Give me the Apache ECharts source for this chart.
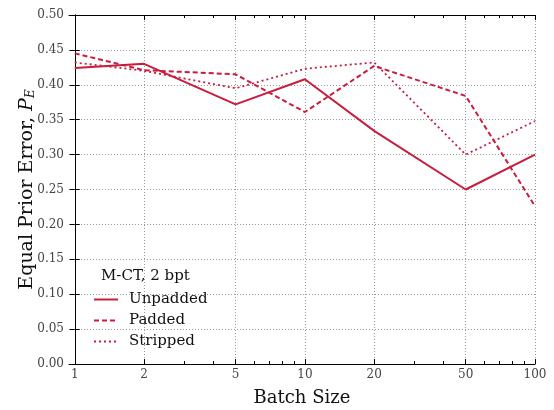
<!DOCTYPE html>
<html><head><meta charset="utf-8">
<script src="https://cdn.jsdelivr.net/npm/echarts@6/dist/echarts.min.js"></script>
<style>html,body{margin:0;padding:0;background:#fff}#c{width:554px;height:410px}</style>
</head><body><div id="c"></div>
<script>
// Data
const batchSizes = [1, 2, 5, 10, 20, 50, 100];
const unpadded = [0.424, 0.430, 0.372, 0.408, 0.334, 0.250, 0.300];
const padded   = [0.445, 0.421, 0.415, 0.361, 0.427, 0.384, 0.226];
const stripped = [0.432, 0.420, 0.395, 0.423, 0.432, 0.300, 0.348];
const xMajorTicks = [1, 2, 5, 10, 20, 50, 100];
const xMinorTicks = [3, 4, 6, 7, 8, 9, 30, 40, 60, 70, 80, 90];
const seriesNames = ['Unpadded', 'Padded', 'Stripped'];
const legendTitle = 'M-CT, 2 bpt';

const RED = '#c81d3e';
const FONT = 'DejaVu Serif';
const lg = v => Math.log10(v);
const xMin = -0.025, xMax = 2;

function pts(arr) { return batchSizes.map((b, i) => [lg(b), arr[i]]); }

const gridLine = { show: true, lineStyle: { color: '#999', type: [1, 2], width: 1 } };

function xAxisDef(pos, values, len, opts) {
  return Object.assign({
    type: 'value', position: pos, min: xMin, max: xMax,
    axisLine: { show: false },
    axisTick: { show: true, inside: true, length: len, customValues: values.map(lg), lineStyle: { color: '#000', width: 1 } },
    axisLabel: { show: false },
    splitLine: { show: false }
  }, opts || {});
}

const chart = echarts.init(document.getElementById('c'));
chart.setOption({
  animation: false,
  backgroundColor: '#fff',
  grid: { left: 69, right: 19, top: 15, bottom: 46, containLabel: false, outerBoundsMode: 'none' },
  title: {
    text: legendTitle, left: 96, top: 264,
    textStyle: { fontFamily: FONT, fontSize: 15, fontWeight: 'normal', color: '#111' }
  },
  legend: {
    orient: 'vertical', left: 88, top: 287,
    itemWidth: 24, itemHeight: 14, itemGap: 6,
    data: seriesNames,
    itemStyle: { opacity: 0 },
    textStyle: { fontFamily: FONT, fontSize: 15, color: '#111', padding: [0, 0, 0, 6] }
  },
  xAxis: [
    xAxisDef('bottom', xMajorTicks, 5, {
      name: 'Batch Size', nameLocation: 'middle', nameGap: 25,
      nameTextStyle: { fontFamily: FONT, fontSize: 18, color: '#111' },
      axisLine: { show: true, lineStyle: { color: '#000', width: 1 } },
      axisLabel: {
        show: true, customValues: xMajorTicks.map(lg), margin: 5,
        fontFamily: FONT, fontSize: 12, color: '#444',
        formatter: v => String(Math.round(Math.pow(10, v)))
      },
      splitLine: gridLine
    }),
    xAxisDef('bottom', xMinorTicks, 3),
    xAxisDef('top', xMajorTicks, 5, { axisLine: { show: true, lineStyle: { color: '#000', width: 1 } } }),
    xAxisDef('top', xMinorTicks, 3)
  ],
  yAxis: [
    {
      type: 'value', position: 'left', min: 0, max: 0.5, interval: 0.05,
      name: '{a|Equal Prior Error, }{i|P}{s|E}',
      nameLocation: 'middle', nameGap: 32, nameMoveOverlap: false,
      nameTextStyle: {
        fontFamily: FONT, fontSize: 19, color: '#111',
        rich: {
          a: { fontFamily: FONT, fontSize: 19, color: '#111' },
          i: { fontFamily: FONT, fontSize: 19, fontStyle: 'italic', color: '#111' },
          s: { fontFamily: FONT, fontSize: 12, fontStyle: 'italic', color: '#111', verticalAlign: 'bottom', padding: [8, 0, 0, 0] }
        }
      },
      axisLine: { show: true, lineStyle: { color: '#000', width: 1 } },
      axisTick: { show: true, inside: true, length: 5, lineStyle: { color: '#000' } },
      axisLabel: { fontFamily: FONT, fontSize: 12, color: '#444', margin: 5, formatter: v => v.toFixed(2) },
      splitLine: gridLine
    },
    {
      type: 'value', position: 'right', min: 0, max: 0.5, interval: 0.05,
      axisLine: { show: true, lineStyle: { color: '#000', width: 1 } },
      axisTick: { show: true, inside: true, length: 5, lineStyle: { color: '#000' } },
      axisLabel: { show: false },
      splitLine: { show: false }
    }
  ],
  series: [
    { name: seriesNames[0], type: 'line', data: pts(unpadded), symbol: 'none', color: RED,
      lineStyle: { color: RED, width: 2, type: 'solid' } },
    { name: seriesNames[1], type: 'line', data: pts(padded), symbol: 'none', color: RED,
      lineStyle: { color: RED, width: 2, type: [5, 3] } },
    { name: seriesNames[2], type: 'line', data: pts(stripped), symbol: 'none', color: RED,
      lineStyle: { color: RED, width: 1.8, type: [2, 3] } }
  ]
});
</script>
</body></html>
